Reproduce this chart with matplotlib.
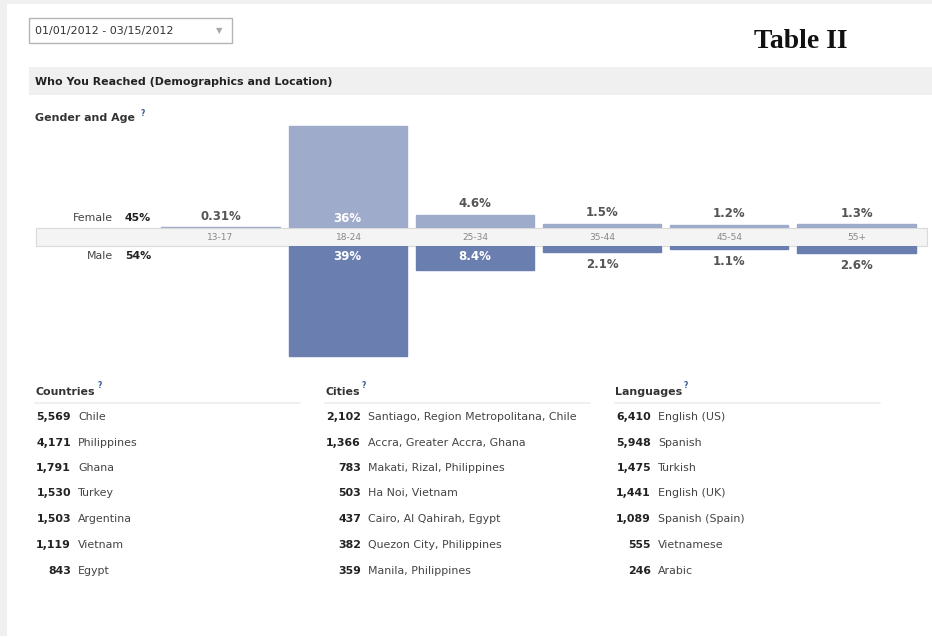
import matplotlib
matplotlib.use("Agg")
import matplotlib.pyplot as plt
from matplotlib.patches import Rectangle
from matplotlib.lines import Line2D

# ---------------- data ----------------
age_groups = ["13-17", "18-24", "25-34", "35-44", "45-54", "55+"]
female_pct = [0.31, 36, 4.6, 1.5, 1.2, 1.3]
male_pct = [0, 39, 8.4, 2.1, 1.1, 2.6]
female_labels = ["0.31%", "36%", "4.6%", "1.5%", "1.2%", "1.3%"]
male_labels = ["", "39%", "8.4%", "2.1%", "1.1%", "2.6%"]
female_total = "45%"
male_total = "54%"

countries = ["Chile", "Philippines", "Ghana", "Turkey", "Argentina", "Vietnam", "Egypt"]
country_counts = [5569, 4171, 1791, 1530, 1503, 1119, 843]
cities = ["Santiago, Region Metropolitana, Chile", "Accra, Greater Accra, Ghana",
          "Makati, Rizal, Philippines", "Ha Noi, Vietnam", "Cairo, Al Qahirah, Egypt",
          "Quezon City, Philippines", "Manila, Philippines"]
city_counts = [2102, 1366, 783, 503, 437, 382, 359]
languages = ["English (US)", "Spanish", "Turkish", "English (UK)", "Spanish (Spain)",
             "Vietnamese", "Arabic"]
language_counts = [6410, 5948, 1475, 1441, 1089, 555, 246]

date_range = "01/01/2012 - 03/15/2012"

# ---------------- layout helpers ----------------
W, H = 932, 637
fig = plt.figure(figsize=(W / 100, H / 100), dpi=100)
fig.patch.set_facecolor("white")


def fx(x):
    return x / W


def fy(y):
    return 1 - y / H


def txt(x, y, s, **kw):
    kw.setdefault("va", "center")
    kw.setdefault("family", "DejaVu Sans")
    fig.text(fx(x), fy(y), s, **kw)


def rect(x0, y0, x1, y1, **kw):
    fig.patches.append(Rectangle((fx(x0), fy(y1)), fx(x1) - fx(x0), fy(y0) - fy(y1),
                                 transform=fig.transFigure, figure=fig, **kw))


def hline(x0, x1, y, **kw):
    fig.lines.append(Line2D([fx(x0), fx(x1)], [fy(y), fy(y)], transform=fig.transFigure,
                            figure=fig, **kw))


FS = 7.9

# page background
rect(0, 0, W, 4, facecolor="#f0f0f0", edgecolor="none")
rect(0, 0, 7, 636, facecolor="#f0f0f0", edgecolor="none")

# date dropdown
rect(29, 18, 232, 43, facecolor="white", edgecolor="#b5b5b5", linewidth=1.0)
txt(35, 31, date_range, fontsize=8.0, color="#333333")
txt(219, 31, "\u25BC", fontsize=6, color="#a8a8a8", ha="center")

# Table II
txt(801, 41, "Table II", fontsize=20, fontweight="bold", family="Liberation Serif",
    color="#111111", ha="center")

# header bar
rect(29, 67, W, 95, facecolor="#f0f0f0", edgecolor="none")
txt(35, 82, "Who You Reached (Demographics and Location)", fontsize=FS,
    fontweight="bold", color="#222222")

# Gender and Age
txt(35, 118, "Gender and Age", fontsize=FS, fontweight="bold", color="#333333")
txt(141, 113, "?", fontsize=5.5, fontweight="bold", color="#3b5998")

# ---------------- bar chart ----------------
band_top, band_bot = 228, 246
band_x0, band_x1 = 36, 927
px_per_pct = 2.83
ylim_max = 42
centers_px = [220.5, 348.5, 475, 602, 730, 856.5]
pitch = (centers_px[-1] - centers_px[0]) / 5
xl = -(centers_px[0] - band_x0) / pitch
xr = 5 + (band_x1 - centers_px[-1]) / pitch
ax_h = ylim_max * px_per_pct

female_color = "#9eabcb"
male_color = "#6a7fb0"

# band (under the bars)
rect(band_x0, band_top, band_x1, band_bot, facecolor="#f4f4f4", edgecolor="#dadada",
     linewidth=0.8, zorder=-5)

ax_f = fig.add_axes([fx(band_x0), fy(band_top), fx(band_x1) - fx(band_x0), ax_h / H])
ax_m = fig.add_axes([fx(band_x0), fy(band_bot + ax_h), fx(band_x1) - fx(band_x0), ax_h / H])
xs = list(range(len(age_groups)))
ax_f.bar(xs, female_pct, width=0.93, color=female_color,
         edgecolor=[female_color if v > 0 else "none" for v in female_pct],
         linewidth=1.0)
ax_m.bar(xs, male_pct, width=0.93, color=male_color,
         edgecolor=[male_color if v > 0 else "none" for v in male_pct],
         linewidth=1.0)
ax_f.set_ylim(0, ylim_max)
ax_m.set_ylim(ylim_max, 0)
for a in (ax_f, ax_m):
    a.set_xlim(xl, xr)
    a.axis("off")
    a.patch.set_alpha(0)

LFS = 8.5
inside_thr = 8
for i, (v, lab) in enumerate(zip(female_pct, female_labels)):
    if v >= inside_thr:
        ax_f.annotate(lab, (i, 0), xytext=(0, 7), textcoords="offset points",
                      ha="center", va="center", fontsize=LFS, fontweight="bold",
                      color="white")
    else:
        ax_f.annotate(lab, (i, v), xytext=(0, 8), textcoords="offset points",
                      ha="center", va="center", fontsize=LFS, fontweight="bold",
                      color="#555555")
for i, (v, lab) in enumerate(zip(male_pct, male_labels)):
    if not lab:
        continue
    if v >= inside_thr:
        ax_m.annotate(lab, (i, 0), xytext=(0, -7.5), textcoords="offset points",
                      ha="center", va="center", fontsize=LFS, fontweight="bold",
                      color="white")
    else:
        ax_m.annotate(lab, (i, v), xytext=(0, -9), textcoords="offset points",
                      ha="center", va="center", fontsize=LFS, fontweight="bold",
                      color="#555555")

# age labels inside the band
for i, g in enumerate(age_groups):
    txt(centers_px[i], 237.5, g, fontsize=6.5, color="#888888", ha="center")

txt(113, 218, "Female", fontsize=FS, color="#444444", ha="right")
txt(151, 218, female_total, fontsize=FS, fontweight="bold", color="#222222", ha="right")
txt(113, 256, "Male", fontsize=FS, color="#444444", ha="right")
txt(151, 256, male_total, fontsize=FS, fontweight="bold", color="#222222", ha="right")

# ---------------- lists ----------------
row_y = [417, 443, 468, 493, 519, 545, 571]


def draw_list(x0, title, names, counts, qx):
    txt(x0, 392, title, fontsize=FS, fontweight="bold", color="#333333")
    txt(qx, 386, "?", fontsize=5.5, fontweight="bold", color="#3b5998")
    hline(x0, x0 + 265, 403, color="#eeeeee", linewidth=1.2)
    for y, n, c in zip(row_y, names, counts):
        txt(x0 + 36, y, f"{c:,}", fontsize=FS, fontweight="bold", color="#222222",
            ha="right")
        txt(x0 + 43, y, n, fontsize=FS, color="#444444")


draw_list(35, "Countries", countries, country_counts, 98)
draw_list(325, "Cities", cities, city_counts, 362)
draw_list(615, "Languages", languages, language_counts, 684)

fig.savefig("out.png", dpi=100, facecolor="white")
